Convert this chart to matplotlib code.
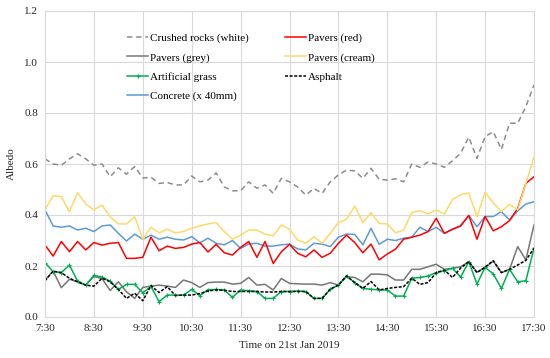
import numpy as np
import matplotlib
matplotlib.use('Agg')
import matplotlib.pyplot as plt

plt.rcParams['font.family'] = ['Liberation Serif', 'DejaVu Serif']

# readings every 10 min, 7:30 -> 17:30
minutes = np.arange(0, 601, 10)
tick_labels = ['7:30', '8:30', '9:30', '10:30', '11:30', '12:30',
               '13:30', '14:30', '15:30', '16:30', '17:30']

crushed_white = [0.62, 0.60, 0.595, 0.62, 0.64, 0.62, 0.595, 0.60, 0.55, 0.585,
                 0.56, 0.59, 0.545, 0.548, 0.524, 0.527, 0.518, 0.518, 0.553, 0.53,
                 0.537, 0.565, 0.51, 0.495, 0.495, 0.53, 0.505, 0.518, 0.485, 0.544,
                 0.53, 0.51, 0.478, 0.504, 0.485, 0.53, 0.557, 0.576, 0.573, 0.544,
                 0.583, 0.54, 0.537, 0.542, 0.53, 0.60, 0.587, 0.608, 0.60, 0.587,
                 0.613, 0.642, 0.705, 0.622, 0.707, 0.727, 0.657, 0.76, 0.76, 0.825, 0.91]

pavers_grey = [0.145, 0.18, 0.115, 0.148, 0.138, 0.125, 0.16, 0.15, 0.104, 0.138,
               0.099, 0.073, 0.116, 0.121, 0.125, 0.121, 0.116, 0.145, 0.135, 0.116,
               0.135, 0.137, 0.137, 0.129, 0.132, 0.155, 0.125, 0.128, 0.106, 0.151,
               0.132, 0.13, 0.129, 0.129, 0.125, 0.135, 0.125, 0.158, 0.155, 0.138,
               0.168, 0.168, 0.165, 0.145, 0.145, 0.187, 0.187, 0.197, 0.207, 0.187,
               0.191, 0.197, 0.217, 0.176, 0.195, 0.219, 0.174, 0.187, 0.276, 0.224, 0.361]

art_grass = [0.213, 0.178, 0.174, 0.204, 0.14, 0.125, 0.163, 0.157, 0.14, 0.108,
             0.128, 0.128, 0.095, 0.12, 0.06, 0.086, 0.086, 0.086, 0.108, 0.084,
             0.107, 0.108, 0.106, 0.077, 0.106, 0.103, 0.1, 0.073, 0.073, 0.1,
             0.1, 0.102, 0.1, 0.073, 0.073, 0.109, 0.125, 0.161, 0.135, 0.112,
             0.109, 0.106, 0.106, 0.082, 0.082, 0.152, 0.155, 0.161, 0.174, 0.181,
             0.191, 0.157, 0.217, 0.129, 0.195, 0.169, 0.112, 0.187, 0.138, 0.142, 0.27]

concrete = [0.42, 0.357, 0.352, 0.357, 0.341, 0.348, 0.335, 0.357, 0.361, 0.328,
            0.298, 0.325, 0.305, 0.321, 0.305, 0.313, 0.305, 0.302, 0.315, 0.291,
            0.309, 0.289, 0.283, 0.3, 0.269, 0.286, 0.289, 0.278, 0.278, 0.283,
            0.286, 0.267, 0.263, 0.289, 0.286, 0.276, 0.313, 0.325, 0.324, 0.283,
            0.348, 0.285, 0.305, 0.3, 0.309, 0.313, 0.352, 0.335, 0.352, 0.328,
            0.344, 0.359, 0.398, 0.354, 0.394, 0.394, 0.413, 0.381, 0.416, 0.443, 0.452]

pavers_red = [0.282, 0.239, 0.296, 0.256, 0.296, 0.263, 0.292, 0.282, 0.289, 0.292,
              0.23, 0.23, 0.234, 0.313, 0.26, 0.278, 0.269, 0.273, 0.286, 0.292,
              0.255, 0.285, 0.252, 0.243, 0.273, 0.296, 0.234, 0.296, 0.21, 0.256,
              0.285, 0.25, 0.236, 0.263, 0.234, 0.25, 0.289, 0.321, 0.292, 0.252,
              0.286, 0.224, 0.247, 0.266, 0.305, 0.313, 0.321, 0.335, 0.387, 0.328,
              0.344, 0.357, 0.398, 0.305, 0.394, 0.338, 0.354, 0.378, 0.426, 0.524, 0.55]

pavers_cream = [0.42, 0.476, 0.472, 0.413, 0.487, 0.443, 0.42, 0.439, 0.393, 0.365,
                0.365, 0.393, 0.305, 0.352, 0.33, 0.344, 0.33, 0.335, 0.348, 0.357,
                0.365, 0.37, 0.335, 0.305, 0.321, 0.341, 0.341, 0.325, 0.318, 0.361,
                0.344, 0.302, 0.289, 0.315, 0.289, 0.328, 0.37, 0.383, 0.435, 0.37,
                0.409, 0.367, 0.365, 0.33, 0.341, 0.409, 0.417, 0.404, 0.42, 0.404,
                0.461, 0.48, 0.486, 0.394, 0.489, 0.448, 0.413, 0.442, 0.42, 0.524, 0.628]

asphalt = [0.142, 0.18, 0.174, 0.152, 0.138, 0.125, 0.121, 0.152, 0.138, 0.108,
           0.073, 0.093, 0.064, 0.123, 0.096, 0.119, 0.084, 0.086, 0.086, 0.092,
           0.102, 0.106, 0.105, 0.1, 0.1, 0.1, 0.1, 0.098, 0.098, 0.1,
           0.1, 0.1, 0.1, 0.073, 0.073, 0.109, 0.125, 0.161, 0.135, 0.112,
           0.139, 0.106, 0.112, 0.116, 0.119, 0.152, 0.128, 0.135, 0.174, 0.184,
           0.155, 0.192, 0.217, 0.174, 0.195, 0.221, 0.174, 0.187, 0.204, 0.222, 0.27]

fig = plt.figure(figsize=(5.5, 3.58), dpi=100)
ax = fig.add_axes([45/550, 1-317/358, 489/550, 306/358])

lw = 1.1
ax.plot(minutes, crushed_white, color='#8c8c8c', lw=lw, dashes=(3.5, 2.5), label='Crushed rocks (white)')
ax.plot(minutes, pavers_grey, color='#767676', lw=lw, label='Pavers (grey)')
ax.plot(minutes, art_grass, color='#00b050', lw=lw, marker='+', ms=3, mew=0.8, label='Artificial grass')
ax.plot(minutes, concrete, color='#5b9bd5', lw=lw, label='Concrete (x 40mm)')
ax.plot(minutes, pavers_red, color='#ff0000', lw=lw, label='Pavers (red)')
ax.plot(minutes, pavers_cream, color='#ffd966', lw=lw, label='Pavers (cream)')
ax.plot(minutes, asphalt, color='black', lw=lw, dashes=(2, 1), label='Asphalt')

ax.set_xlim(0, 600)
ax.set_ylim(0, 1.2)
ax.set_xticks(np.arange(0, 601, 60))
ax.set_xticklabels(tick_labels)
ax.set_yticks(np.arange(0, 1.21, 0.2))
ax.set_yticklabels(['%.1f' % v for v in np.arange(0, 1.21, 0.2)])
ax.tick_params(length=0, labelsize=8, colors='#262626', pad=5)
ax.grid(True, color='#d9d9d9', lw=0.8)
ax.set_axisbelow(True)
for s in ax.spines.values():
    s.set_color('#d9d9d9')
    s.set_linewidth(0.8)

ax.set_xlabel('Time on 21st Jan 2019', fontsize=8, color='#262626', labelpad=6)
ax.set_ylabel('Albedo', fontsize=8, color='#262626', labelpad=6)

ax.legend(ncol=2, frameon=False, fontsize=8, loc='upper left',
          bbox_to_anchor=(0.168, 0.928), borderaxespad=0, borderpad=0,
          handlelength=1.9, handletextpad=0.2, columnspacing=3.2, labelspacing=0.85)

fig.savefig('out.png', dpi=100)
